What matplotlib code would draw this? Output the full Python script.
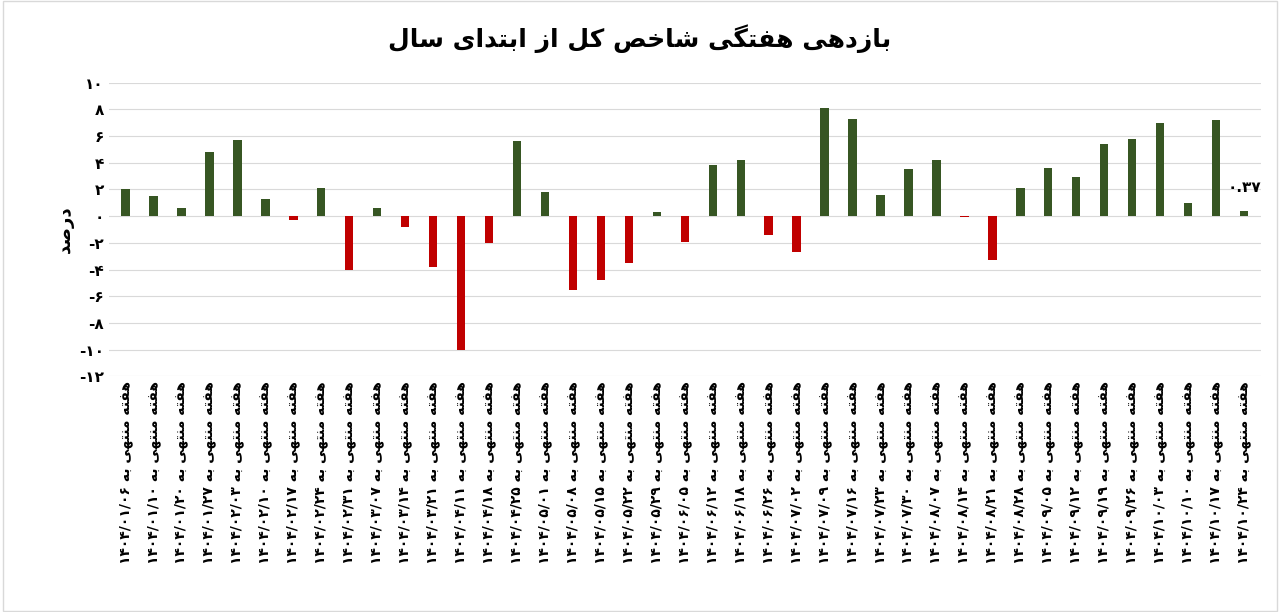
import matplotlib
matplotlib.use("Agg")
import matplotlib.pyplot as plt

FORMS = {
 'ا':('\uFE8D','\uFE8E',None,None),'ب':('\uFE8F','\uFE90','\uFE91','\uFE92'),
 'ت':('\uFE95','\uFE96','\uFE97','\uFE98'),'خ':('\uFEA5','\uFEA6','\uFEA7','\uFEA8'),
 'د':('\uFEA9','\uFEAA',None,None),'ر':('\uFEAD','\uFEAE',None,None),
 'ز':('\uFEAF','\uFEB0',None,None),'س':('\uFEB1','\uFEB2','\uFEB3','\uFEB4'),
 'ش':('\uFEB5','\uFEB6','\uFEB7','\uFEB8'),'ص':('\uFEB9','\uFEBA','\uFEBB','\uFEBC'),
 'ف':('\uFED1','\uFED2','\uFED3','\uFED4'),'ل':('\uFEDD','\uFEDE','\uFEDF','\uFEE0'),
 'م':('\uFEE1','\uFEE2','\uFEE3','\uFEE4'),'ن':('\uFEE5','\uFEE6','\uFEE7','\uFEE8'),
 'ه':('\uFEE9','\uFEEA','\uFEEB','\uFEEC'),'ی':('\uFBFC','\uFBFD','\uFBFE','\uFBFF'),
 'ک':('\uFB8E','\uFB8F','\uFB90','\uFB91'),'گ':('\uFB92','\uFB93','\uFB94','\uFB95'),
}
def joins_next(c):
    return c in FORMS and FORMS[c][2] is not None

def shape(s):
    out = []
    for i, c in enumerate(s):
        if c not in FORMS:
            out.append(c); continue
        prev = s[i-1] if i > 0 else ''
        nxt = s[i+1] if i+1 < len(s) else ''
        jp = joins_next(prev)
        jn = joins_next(c) and nxt in FORMS
        iso, fin, ini, med = FORMS[c]
        if jp and jn: out.append(med)
        elif jp: out.append(fin)
        elif jn: out.append(ini)
        else: out.append(iso)
    # visual order: reverse, keeping digit runs LTR
    runs, cur, isd = [], '', None
    for c in out:
        d = c in '۰۱۲۳۴۵۶۷۸۹/0123456789.'
        if isd is None or d == isd: cur += c
        else: runs.append((cur, isd)); cur = c
        isd = d
    runs.append((cur, isd))
    return ''.join(r if d else r[::-1] for r, d in reversed(runs))

def fa(s):
    return str(s).translate(str.maketrans('0123456789', '۰۱۲۳۴۵۶۷۸۹'))

dates = ["01/06","01/10","01/20","01/27","02/03","02/10","02/17","02/24","02/31","03/07",
         "03/14","03/21","04/11","04/18","04/25","05/01","05/08","05/15","05/22","05/29",
         "06/05","06/12","06/18","06/26","07/02","07/09","07/16","07/23","07/30","08/07",
         "08/14","08/21","08/28","09/05","09/12","09/19","09/26","10/03","10/10","10/17","10/24"]
values = [2.0,1.5,0.6,4.8,5.7,1.3,-0.3,2.1,-4.0,0.6,-0.8,-3.8,-10.0,-2.0,5.6,1.8,-5.5,-4.8,-3.5,0.3,
          -1.9,3.8,4.2,-1.4,-2.7,8.1,7.3,1.6,3.5,4.2,-0.1,-3.3,2.1,3.6,2.9,5.4,5.8,7.0,1.0,7.2,0.37]
labels = [shape("هفته منتهی به " + fa("1404/" + d)) for d in dates]

plt.rcParams['font.family'] = ['DejaVu Sans']
fig = plt.figure(figsize=(12.8, 6.12), dpi=100)
ax = fig.add_axes([0.085, 0.385, 0.9, 0.48])
x = list(range(len(values)))
colors = ['#375623' if v >= 0 else '#c00000' for v in values]
ax.bar(x, values, width=0.3, color=colors, zorder=3)
ax.set_ylim(-12, 10)
ax.set_xlim(-0.6, len(values) - 0.4)
ticks = list(range(-12, 11, 2))
ax.set_yticks(ticks)
ax.set_yticklabels([fa(t).replace('-', '-') for t in ticks], fontsize=11, fontweight='bold')
ax.set_xticks(x)
ax.set_xticklabels(labels, rotation=90, fontsize=10, fontweight='bold')
ax.grid(axis='y', color='#d9d9d9', linewidth=0.8, zorder=0)
for s in ax.spines.values():
    s.set_visible(False)
ax.tick_params(length=0)
ax.set_ylabel(shape("درصد"), fontsize=13, fontweight='bold')
ax.annotate(fa("0.37"), (x[-1], values[-1]), xytext=(0, 14), textcoords='offset points',
            ha='center', fontsize=11, fontweight='bold')
fig.suptitle(shape("بازدهی هفتگی شاخص کل از ابتدای سال"), y=0.96, fontsize=18, fontweight='bold')
fig.patches.append(plt.Rectangle((0.002, 0.002), 0.996, 0.996, transform=fig.transFigure,
                                 fill=False, edgecolor='#d9d9d9', linewidth=1))
fig.savefig("out.png", dpi=100)
